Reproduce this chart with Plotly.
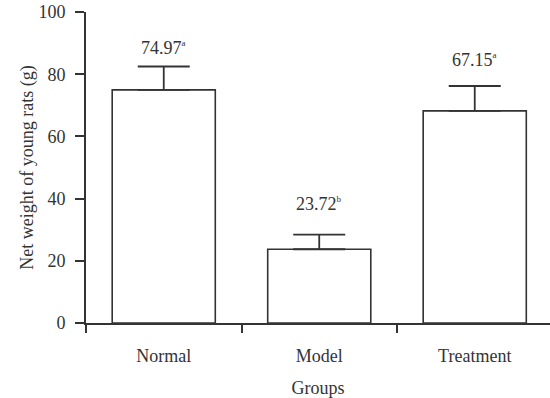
import plotly.graph_objects as go

groups = ["Normal", "Model", "Treatment"]
bar_heights = [74.97, 23.72, 68.2]
sem = [7.5, 4.7, 8.0]
mean_labels = ["74.97", "23.72", "67.15"]
sig_letters = ["a", "b", "a"]
y_ticks = [0, 20, 40, 60, 80, 100]

INK = "#333333"
FONT = "Liberation Serif, Times New Roman, serif"

fig = go.Figure()
fig.add_trace(go.Bar(
    x=groups, y=bar_heights, width=0.663,
    marker=dict(color="white", line=dict(color=INK, width=1.6)),
    error_y=dict(type="data", symmetric=False, array=sem,
                 arrayminus=[0] * len(sem), color=INK, thickness=1.8, width=26),
    showlegend=False, hoverinfo="skip",
))

label_shift = [19, 31, 26]
for g, h, e, m, s, sh in zip(groups, bar_heights, sem, mean_labels, sig_letters, label_shift):
    fig.add_annotation(
        x=g, y=h + e, yref="y", xref="x",
        text=f"{m}<sup><span style='font-size:9px'>{s}</span></sup>",
        showarrow=False, yanchor="middle", yshift=sh,
        font=dict(family=FONT, size=18, color=INK),
    )

fig.update_layout(
    width=550, height=398,
    margin=dict(l=86, r=0, t=12, b=75, autoexpand=False),
    paper_bgcolor="white", plot_bgcolor="white",
    font=dict(family=FONT, size=18, color=INK),
    bargap=0.337,
)
fig.update_xaxes(
    type="category", range=[-0.5, 2.484], automargin=False,
    showline=True, linecolor=INK, linewidth=1.6,
    ticks="outside", tickson="boundaries", ticklen=8, tickwidth=1.6, tickcolor=INK,
    showgrid=False, zeroline=False,
    ticklabelstandoff=16,
    title=dict(text="Groups", standoff=18, font=dict(size=18)),
)
fig.update_yaxes(
    range=[0, 100], tickvals=y_ticks, automargin=False,
    showline=True, linecolor=INK, linewidth=1.6,
    ticks="outside", ticklen=9, tickwidth=1.6, tickcolor=INK,
    showgrid=False, zeroline=False, ticklabeloverflow="allow",
    ticklabelstandoff=6,
    title=dict(text="Net weight of young rats (g)", standoff=0, font=dict(size=18)),
)

fig.write_html(
    "out.html",
    config={"displayModeBar": False},
    post_script="document.body.style.margin='0';",
)
